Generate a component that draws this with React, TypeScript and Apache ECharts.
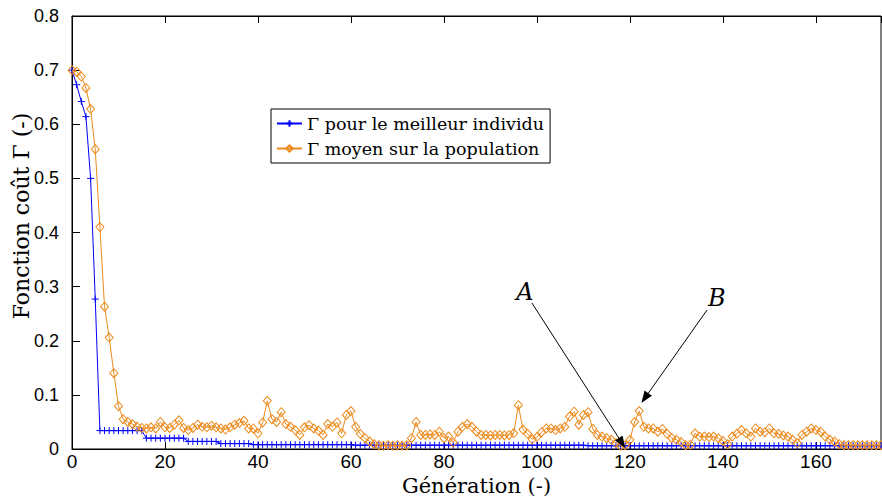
import React, { useEffect, useRef } from "react";
import * as echarts from "echarts";

const bestValues: number[] = [
  0.700, 0.673, 0.642, 0.614, 0.500, 0.277, 0.034, 0.034, 0.034, 0.034,
  0.034, 0.034, 0.034, 0.034, 0.034, 0.034, 0.020, 0.020, 0.020, 0.020,
  0.020, 0.020, 0.020, 0.020, 0.020, 0.014, 0.014, 0.014, 0.014, 0.014,
  0.014, 0.014, 0.010, 0.010, 0.010, 0.010, 0.010, 0.010, 0.010, 0.008,
  0.008, 0.008, 0.008, 0.008, 0.008, 0.008, 0.008, 0.008, 0.008, 0.008,
  0.008, 0.008, 0.008, 0.008, 0.008, 0.008, 0.008, 0.008, 0.008, 0.008,
  0.008, 0.007, 0.007, 0.007, 0.007, 0.007, 0.007, 0.007, 0.007, 0.007,
  0.007, 0.007, 0.007, 0.007, 0.007, 0.007, 0.007, 0.007, 0.007, 0.007,
  0.007, 0.007, 0.007, 0.007, 0.007, 0.007, 0.007, 0.007, 0.007, 0.007,
  0.007, 0.007, 0.007, 0.007, 0.007, 0.007, 0.007, 0.007, 0.007, 0.007,
  0.007, 0.007, 0.007, 0.007, 0.007, 0.007, 0.007, 0.007, 0.007, 0.007,
  0.007, 0.006, 0.006, 0.006, 0.006, 0.006, 0.006, 0.006, 0.006, 0.006,
  0.006, 0.006, 0.006, 0.006, 0.006, 0.006, 0.006, 0.006, 0.006, 0.006,
  0.006, 0.006, 0.006, 0.006, 0.006, 0.006, 0.006, 0.006, 0.006, 0.006,
  0.006, 0.006, 0.006, 0.006, 0.006, 0.006, 0.006, 0.006, 0.006, 0.006,
  0.006, 0.006, 0.006, 0.006, 0.006, 0.006, 0.006, 0.006, 0.006, 0.006,
  0.006, 0.006, 0.006, 0.006, 0.006, 0.006, 0.006, 0.006, 0.006, 0.006,
  0.006, 0.006, 0.006, 0.006, 0.006,
];

const meanValues: number[] = [
  0.700, 0.697, 0.688, 0.667, 0.628, 0.554, 0.410, 0.263, 0.206, 0.140,
  0.079, 0.055, 0.050, 0.046, 0.041, 0.039, 0.038, 0.040, 0.038, 0.050,
  0.040, 0.039, 0.045, 0.053, 0.039, 0.035, 0.039, 0.045, 0.041, 0.040,
  0.043, 0.040, 0.038, 0.036, 0.040, 0.045, 0.048, 0.052, 0.038, 0.038,
  0.029, 0.049, 0.089, 0.055, 0.050, 0.068, 0.046, 0.041, 0.035, 0.026,
  0.040, 0.044, 0.038, 0.034, 0.026, 0.046, 0.041, 0.049, 0.029, 0.063,
  0.070, 0.041, 0.028, 0.020, 0.014, 0.009, 0.007, 0.006, 0.007, 0.006,
  0.007, 0.006, 0.007, 0.020, 0.050, 0.026, 0.026, 0.027, 0.026, 0.032,
  0.020, 0.023, 0.012, 0.032, 0.041, 0.046, 0.041, 0.032, 0.026, 0.026,
  0.025, 0.026, 0.026, 0.025, 0.026, 0.029, 0.081, 0.036, 0.028, 0.018,
  0.022, 0.031, 0.038, 0.038, 0.035, 0.038, 0.041, 0.060, 0.069, 0.045,
  0.063, 0.068, 0.037, 0.026, 0.023, 0.020, 0.017, 0.011, 0.006, 0.007,
  0.017, 0.050, 0.070, 0.041, 0.038, 0.038, 0.032, 0.037, 0.028, 0.020,
  0.017, 0.013, 0.007, 0.008, 0.029, 0.023, 0.023, 0.022, 0.023, 0.020,
  0.015, 0.009, 0.023, 0.028, 0.035, 0.029, 0.023, 0.038, 0.032, 0.031,
  0.038, 0.029, 0.028, 0.025, 0.023, 0.017, 0.011, 0.026, 0.032, 0.038,
  0.035, 0.032, 0.023, 0.017, 0.014, 0.009, 0.007, 0.007, 0.007, 0.007,
  0.007, 0.007, 0.007, 0.007, 0.007,
];

const seriesNames: string[] = ["Γ pour le meilleur individu", "Γ moyen sur la population"];
const xTicks: number[] = [0, 20, 40, 60, 80, 100, 120, 140, 160];
const yTicks: string[] = ["0", "0.1", "0.2", "0.3", "0.4", "0.5", "0.6", "0.7", "0.8"];
const xTitle = "Génération (-)";
const yTitle = "Fonction coût Γ (-)";

// annotations: label, text position, arrow start, arrow end (data coordinates)
const annotationLabels: string[] = ["A", "B"];
const annotationTextPos: [number, number][] = [[97.4, 0.29], [138.7, 0.279]];
const annotationArrowStart: [number, number][] = [[98.9, 0.27], [136.6, 0.257]];
const annotationArrowEnd: [number, number][] = [[118.3, 0.011], [123.2, 0.094]];

const BLUE = "#0000ff";
const ORANGE = "#ec8a1c";
const SERIF = "DejaVu Serif";
const SANS = "Liberation Sans";

export default function App() {
  const ref = useRef<HTMLDivElement>(null);

  useEffect(() => {
    if (!ref.current) return;
    const chart = echarts.init(ref.current, undefined, { renderer: "svg" });
    const bestData = bestValues.map((v, i) => [i, v]);
    const meanData = meanValues.map((v, i) => [i, v]);

    const option: any = {
      animation: false,
      backgroundColor: "#ffffff",
      grid: {
        left: 72,
        top: 16,
        right: 1,
        height: 433,
        outerBoundsMode: "none",
        containLabel: false,
        show: true,
        borderColor: "#000",
        borderWidth: 1,
      },
      graphic: [
        {
          type: "text",
          x: 21,
          y: 216,
          rotation: Math.PI / 2,
          silent: true,
          style: {
            text: yTitle,
            fontFamily: SERIF,
            fontSize: 22,
            fill: "#000",
            align: "center",
            verticalAlign: "middle",
          },
        },
      ],
      legend: {
        orient: "vertical",
        left: 271,
        top: 109,
        padding: [4, 6, 4, 5],
        itemGap: 4,
        itemWidth: 25,
        itemHeight: 8,
        borderColor: "#000",
        borderWidth: 1,
        backgroundColor: "#fff",
        textStyle: { fontFamily: SERIF, fontSize: 17.5, color: "#000", lineHeight: 21 },
        data: seriesNames,
      },
      xAxis: [
        {
          type: "value",
          min: 0,
          max: 174,
          interval: 20,
          name: xTitle,
          nameLocation: "middle",
          nameGap: 18,
          nameTextStyle: { fontFamily: SERIF, fontSize: 21, color: "#000" },
          axisLine: { show: true, lineStyle: { color: "#000", width: 1 } },
          axisTick: { show: true, inside: true, length: 7, lineStyle: { color: "#000" } },
          axisLabel: {
            fontFamily: SANS,
            fontSize: 19,
            color: "#000",
            margin: 3,
            showMaxLabel: false,
            formatter: (v: number) => (xTicks.indexOf(v) >= 0 ? String(v) : ""),
          },
          splitLine: { show: false },
        },
        {
          type: "value",
          position: "top",
          min: 0,
          max: 174,
          interval: 20,
          axisLine: { show: true, lineStyle: { color: "#000", width: 1 } },
          axisTick: { show: true, inside: true, length: 7, lineStyle: { color: "#000" } },
          axisLabel: { show: false },
          splitLine: { show: false },
        },
      ],
      yAxis: {
        type: "value",
        min: 0,
        max: 0.8,
        interval: 0.1,
        axisLine: { show: true, lineStyle: { color: "#000", width: 1 } },
        axisTick: { show: true, inside: true, length: 8, lineStyle: { color: "#000" } },
        axisLabel: {
          fontFamily: SANS,
          fontSize: 18,
          color: "#000",
          margin: 13,
          formatter: (v: number) => yTicks[Math.round(v * 10)] ?? "",
        },
        splitLine: { show: false },
      },
      series: [
        {
          name: seriesNames[0],
          type: "line",
          data: bestData,
          symbol: "path://M0 5H10M5 0V10",
          symbolSize: 7,
          showAllSymbol: true,
          lineStyle: { color: BLUE, width: 1 },
          itemStyle: { color: BLUE, borderColor: BLUE, borderWidth: 1 },
          z: 2,
        },
        {
          name: seriesNames[1],
          type: "line",
          data: meanData,
          symbol: "diamond",
          symbolSize: [8, 9],
          showAllSymbol: true,
          lineStyle: { color: ORANGE, width: 1 },
          itemStyle: { color: "rgba(255,255,255,0)", borderColor: ORANGE, borderWidth: 1 },
          z: 3,
          markLine: {
            silent: true,
            symbol: ["none", "path://M0 10L5 0L10 10"],
            symbolSize: [9, 12],
            lineStyle: { color: "#000", width: 1, type: "solid" },
            itemStyle: { color: "rgba(0,0,0,0)", borderColor: "#000", borderWidth: 1 },
            label: { show: false },
            emphasis: { disabled: true },
            data: annotationLabels.map((_, i) => [
              { coord: annotationArrowStart[i] },
              { coord: annotationArrowEnd[i] },
            ]),
          },
          markPoint: {
            silent: true,
            symbol: "circle",
            symbolSize: 0,
            label: {
              show: true,
              position: "inside",
              fontFamily: SERIF,
              fontStyle: "italic",
              fontSize: 24,
              color: "#000",
              formatter: (p: any) => p.name,
            },
            data: annotationLabels.map((l, i) => ({ name: l, coord: annotationTextPos[i] })),
          },
        },
      ],
    };
    chart.setOption(option);
    return () => chart.dispose();
  }, []);

  return (
    <div
      ref={ref}
      style={{ position: "fixed", left: 0, top: 0, width: 882, height: 497 }}
    />
  );
}
